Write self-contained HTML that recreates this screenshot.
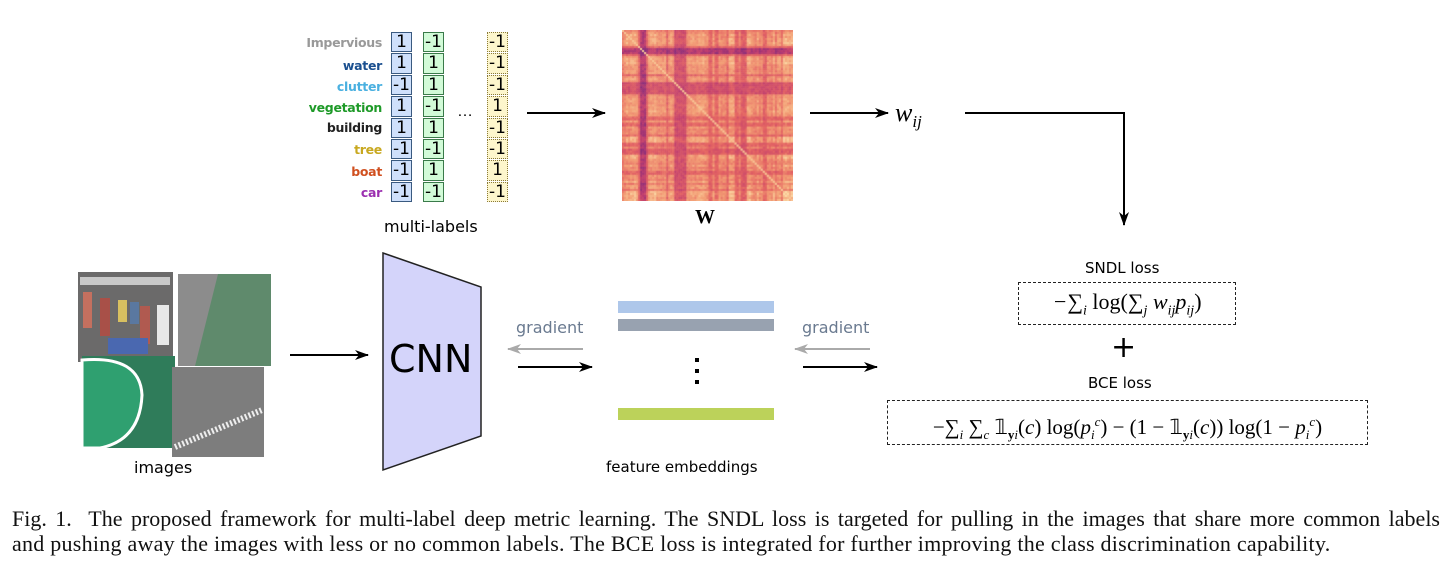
<!DOCTYPE html>
<html><head><meta charset="utf-8"><style>
body{margin:0;width:1451px;height:570px;background:#fff;position:relative;overflow:hidden;font-family:"Liberation Sans","DejaVu Sans",sans-serif}
.a{position:absolute}
.lbl{position:absolute;right:1069px;font-size:12.5px;font-weight:bold;font-family:"DejaVu Sans",sans-serif;letter-spacing:-0.3px}
.cell{position:absolute;width:21px;height:20.4px;border:1px solid #555;box-sizing:border-box;font-size:17px;font-family:"DejaVu Sans",sans-serif;line-height:19px;text-align:center}
.m{font-family:"Liberation Serif",serif;font-style:italic}
.dash{position:absolute;border:1.3px dashed #222;box-sizing:border-box;font-family:"Liberation Serif",serif;font-size:22px;text-align:center;white-space:nowrap}
.cap{position:absolute;left:12px;width:1428px;font-family:"Liberation Serif",serif;font-size:22px;letter-spacing:0.25px;color:#111;white-space:nowrap}
</style></head><body>
<div class="lbl" style="top:35px;color:#999">Impervious</div>
<div class="lbl" style="top:58px;color:#1a4f8f">water</div>
<div class="lbl" style="top:79px;color:#4ab0e0">clutter</div>
<div class="lbl" style="top:100px;color:#1e9a28">vegetation</div>
<div class="lbl" style="top:120px;color:#222">building</div>
<div class="lbl" style="top:142px;color:#c8a820">tree</div>
<div class="lbl" style="top:164px;color:#d05020">boat</div>
<div class="lbl" style="top:185px;color:#9b2fb0">car</div>
<div id="cols"></div>
<div class="a" style="left:457px;top:103px;font-size:16px">…</div>
<div class="a" style="left:384px;top:217px;font-size:16px;font-family:'DejaVu Sans',sans-serif">multi-labels</div>

<canvas id="hm" class="a" style="left:622px;top:30px" width="171" height="171"></canvas>
<div class="a" style="left:695px;top:206px;font-family:'Liberation Serif',serif;font-weight:bold;font-size:20px">W</div>
<div class="a m" style="left:895px;top:98px;font-size:26px">w<sub style="font-size:17px">ij</sub></div>

<svg class="a" style="left:0;top:0" width="1451" height="500">
<defs><marker id="ah" markerWidth="14" markerHeight="10" refX="13" refY="5" orient="auto" markerUnits="userSpaceOnUse"><path d="M0,0 L14,5 L0,10 L4,5z" fill="#000"/></marker>
<marker id="ag" markerWidth="14" markerHeight="10" refX="13" refY="5" orient="auto" markerUnits="userSpaceOnUse"><path d="M0,0 L14,5 L0,10 L4,5z" fill="#aaa"/></marker></defs>
<g stroke="#000" stroke-width="2" fill="none">
<line x1="527" y1="113" x2="605" y2="113" marker-end="url(#ah)"/>
<line x1="810" y1="113" x2="888" y2="113" marker-end="url(#ah)"/>
<polyline points="965,113 1124,113 1124,225" marker-end="url(#ah)"/>
<line x1="290" y1="355" x2="368" y2="355" marker-end="url(#ah)"/>
<line x1="518" y1="367" x2="592" y2="367" marker-end="url(#ah)"/>
<line x1="803" y1="367" x2="877" y2="367" marker-end="url(#ah)"/>
</g>
<g stroke="#aaa" stroke-width="2">
<line x1="583" y1="349" x2="508" y2="349" marker-end="url(#ag)"/>
<line x1="870" y1="349" x2="795" y2="349" marker-end="url(#ag)"/>
</g>
<polygon points="383,253 481,287 481,436 383,470" fill="#d4d4fa" stroke="#222" stroke-width="1.5"/>
<rect x="618" y="301" width="156" height="12" fill="#aec7ea"/>
<rect x="618" y="319" width="156" height="12" fill="#98a2b0"/>
<rect x="618" y="408" width="156" height="12" fill="#bcd25a"/>
<rect x="695" y="358" width="4" height="4"/><rect x="695" y="369" width="4" height="4"/><rect x="695" y="380" width="4" height="4"/>
<rect x="78" y="272" width="95" height="90" fill="#6b6a6a"/>
<rect x="80" y="277" width="90" height="8" fill="#e0e0e0" opacity="0.8"/>
<rect x="83" y="292" width="9" height="36" fill="#c4705f"/><rect x="100" y="298" width="10" height="38" fill="#a85048"/><rect x="118" y="300" width="9" height="22" fill="#d8c060"/><rect x="130" y="302" width="9" height="22" fill="#5a78a0"/><rect x="140" y="306" width="10" height="38" fill="#b05a50"/><rect x="157" y="305" width="12" height="40" fill="#e8e8e8"/><rect x="108" y="338" width="40" height="16" fill="#4a68b0"/>
<rect x="178" y="274" width="93" height="92" fill="#5f8a6c"/>
<polygon points="178,274 218,274 195,366 178,366" fill="#8c8c8c"/>
<rect x="82" y="356" width="93" height="92" fill="#2f7c5a"/>
<path d="M82,360 Q140,355 142,395 Q140,440 100,448 L82,448z" fill="#2fa070" stroke="#fff" stroke-width="3"/>
<rect x="172" y="367" width="92" height="90" fill="#7d7d7d"/>
<line x1="175" y1="447" x2="262" y2="410" stroke="#eee" stroke-width="6" stroke-dasharray="2,2"/>
</svg>
<div class="a" style="left:134px;top:458px;font-size:16px;font-family:'DejaVu Sans',sans-serif">images</div>
<div class="a" style="left:389px;top:337px;font-size:38px;font-family:'DejaVu Sans',sans-serif">CNN</div>
<div class="a" style="left:516px;top:318px;font-size:16px;color:#6a7a90;font-family:'DejaVu Sans',sans-serif">gradient</div>
<div class="a" style="left:802px;top:318px;font-size:16px;color:#6a7a90;font-family:'DejaVu Sans',sans-serif">gradient</div>
<div class="a" style="left:606px;top:458px;font-size:15px;font-family:'DejaVu Sans',sans-serif">feature embeddings</div>

<div class="a" style="left:1085px;top:259px;font-size:15px;font-family:'DejaVu Sans',sans-serif">SNDL loss</div>
<div class="dash" style="left:1018px;top:282px;width:218px;height:43px;line-height:38px"><span class="m">−∑<sub style="font-size:14px">i</sub></span> log(<span class="m">∑<sub style="font-size:14px">j</sub> w<sub style="font-size:14px">ij</sub>p<sub style="font-size:14px">ij</sub></span>)</div>
<div class="a" style="left:1111px;top:330px;font-size:30px;font-family:'DejaVu Sans',sans-serif">+</div>
<div class="a" style="left:1088px;top:374px;font-size:15px;font-family:'DejaVu Sans',sans-serif">BCE loss</div>
<div class="dash" style="left:887px;top:400px;width:481px;height:45px;line-height:42px;font-size:21px">−∑<sub style="font-size:13px" class="m">i</sub> ∑<sub style="font-size:13px" class="m">c</sub> 𝟙<sub style="font-size:13px"><b>y</b><i>i</i></sub>(<i>c</i>) log(<i>p</i><sub style="font-size:13px"><i>i</i></sub><sup style="font-size:13px"><i>c</i></sup>) − (1 − 𝟙<sub style="font-size:13px"><b>y</b><i>i</i></sub>(<i>c</i>)) log(1 − <i>p</i><sub style="font-size:13px"><i>i</i></sub><sup style="font-size:13px"><i>c</i></sup>)</div>

<div class="cap" style="top:506px;text-align:justify;text-align-last:justify;white-space:normal;letter-spacing:0">Fig. 1.&nbsp; The proposed framework for multi-label deep metric learning. The SNDL loss is targeted for pulling in the images that share more common labels</div>
<div class="cap" style="top:531px">and pushing away the images with less or no common labels. The BCE loss is integrated for further improving the class discrimination capability.</div>

<script>
var c=[["1","1","-1","1","1","-1","-1","-1"],["-1","1","1","-1","1","-1","1","-1"],["-1","-1","-1","1","-1","-1","1","-1"]];
var xs=[391,423,487],bg=["#cfe0fb","#d2fbd8","#fdf6cc"],bd=["#3a5a80","#3a7a4a","#8a7a3a"];
var h="";for(var k=0;k<3;k++)for(var i=0;i<8;i++)h+='<div class="cell" style="left:'+xs[k]+'px;top:'+(32+i*21.4)+'px;background:'+bg[k]+';border-color:'+bd[k]+(k==2?';border-style:dotted':'')+'">'+c[k][i]+'</div>';
document.getElementById("cols").innerHTML=h;
var cv=document.getElementById("hm").getContext("2d");
var N=85,s=171/N,seed=7;function r(){seed=(seed*16807)%2147483647;return seed/2147483647;}
var v=[];for(var i=0;i<N;i++){var b=0.6+0.3*r();var p=i*2;
if(p>=17&&p<23)b=0.1;else if(p>=52&&p<64)b=0.3;else if(p>=117&&p<123)b=0.4;else if(p>=85&&p<90)b=0.45;else if(p>=140&&p<143)b=0.45;else if(r()<0.15)b=0.45;if(p>150)b+=0.1;v.push(b);}
var cols=[[110,35,125],[190,60,110],[228,100,100],[243,160,118],[252,222,170]];
function col(t){t=Math.max(0,Math.min(0.999,t))*4;var k=Math.floor(t),f=t-k,a=cols[k],b=cols[k+1];return "rgb("+[0,1,2].map(function(q){return Math.round(a[q]+(b[q]-a[q])*f)}).join(",")+")";}
for(var i=0;i<N;i++)for(var j=0;j<=i;j++){var t=Math.min(v[i],v[j])*0.6+(v[i]+v[j])*0.2+0.15*(r()-0.5);if(i==j)t=0.9;var cc=col(t);cv.fillStyle=cc;cv.fillRect(j*s,i*s,s+0.5,s+0.5);cv.fillRect(i*s,j*s,s+0.5,s+0.5);}
</script>
</body></html>
